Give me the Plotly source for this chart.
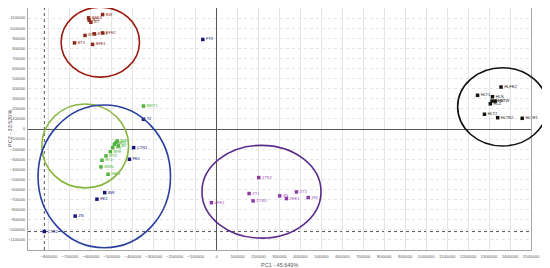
import plotly.graph_objects as go

# ---------------- data ----------------
red_labels = ["BW", "BFE3", "BT5", "BT", "BT3", "BTW", "BTE1", "BFE2", "BFE1"]
red_x = [-544000, -611000, -608000, -600000, -678000, -628000, -584000, -544000, -592000]
red_y = [1135000, 1102000, 1079000, 1059000, 854000, 928000, 944000, 953000, 839000]

green_labels = ["BWT1", "BT1", "BT2", "BN", "BFE", "BTR", "BT4", "BWN", "MAN", "BW2", "BZ"]
green_x = [-349000, -480000, -488000, -496000, -507000, -528000, -547000, -552000, -518000, -474000, -469000]
green_y = [228000, -136000, -151000, -185000, -225000, -267000, -310000, -376000, -449000, -119000, -168000]

blue_labels = ["T2", "FT3", "CTR1", "FE1", "BW", "FE2", "ZN", "CTR2"]
blue_x = [-349000, -66000, -396000, -416000, -534000, -571000, -675000, -822000]
blue_y = [96000, 888000, -185000, -300000, -631000, -696000, -864000, -1017000]

purple_labels = ["ZTR2", "ZT1", "ZTW1", "ZN", "ZFE1", "ZT3", "ZW", "ZFE2"]
purple_x = [201000, 155000, 174000, 301000, 333000, 381000, 437000, -25000]
purple_y = [-482000, -640000, -713000, -663000, -690000, -624000, -680000, -730000]

black_labels = ["HLFE2", "HLT1", "HLN", "HLW", "HLTW", "HLZ", "HLT2", "HLTR2", "HLFE1"]
black_x = [1357000, 1245000, 1316000, 1314000, 1329000, 1306000, 1278000, 1341000, 1458000]
black_y = [416000, 334000, 320000, 277000, 277000, 250000, 146000, 112000, 106000]

# ellipses: (center x, center y, radius x, radius y)
ell_red = (-555000, 861000, 187000, 347000)
ell_green = (-627000, -168000, 207000, 416000)
ell_blue = (-536000, -470000, 316000, 708000)
ell_purple = (214000, -622000, 284000, 460000)
ell_black = (1364000, 220000, 214000, 388000)

# crosshair (selected point)
cross_x = -822000
cross_y = -1017000

x_range = [-900000, 1500000]
y_range = [-1200000, 1200000]
x_ticks = list(range(-800000, 1500001, 100000))
y_ticks = list(range(-1100000, 1200001, 100000))

x_title = "PC1 - 45.649%"
y_title = "PC2 - 33.520%"

# ---------------- figure ----------------
fig = go.Figure()

groups = [
    (red_x, red_y, red_labels, "#8b2a1a", "#8b2a1a"),
    (green_x, green_y, green_labels, "#4fb43c", "#4fb43c"),
    (blue_x, blue_y, blue_labels, "#16167a", "#16167a"),
    (purple_x, purple_y, purple_labels, "#8e3aa6", "#a050b4"),
    (black_x, black_y, black_labels, "#111111", "#222222"),
]
for gx, gy, gl, mc, tc in groups:
    fig.add_trace(go.Scatter(
        x=gx, y=gy, text=gl, mode="markers+text",
        textposition="middle right",
        textfont=dict(size=4, color=tc, family="Arial, Liberation Sans, sans-serif"),
        marker=dict(size=3.5, color=mc, symbol="square"),
        cliponaxis=False, showlegend=False,
    ))

def dom_x(v):
    return (v - x_range[0]) / (x_range[1] - x_range[0])

def dom_y(v):
    return (v - y_range[0]) / (y_range[1] - y_range[0])

def add_ellipse(e, color, width=1.6, unclipped=False):
    cx, cy, rx, ry = e
    if unclipped:
        fig.add_shape(type="circle", xref="x domain", yref="y domain",
                      x0=dom_x(cx - rx), x1=dom_x(cx + rx),
                      y0=dom_y(cy - ry), y1=dom_y(cy + ry),
                      line=dict(color=color, width=width))
    else:
        fig.add_shape(type="circle", xref="x", yref="y",
                      x0=cx - rx, x1=cx + rx, y0=cy - ry, y1=cy + ry,
                      line=dict(color=color, width=width))

add_ellipse(ell_red, "#9a1c10", unclipped=True)
add_ellipse(ell_green, "#86b53a")
add_ellipse(ell_blue, "#2b3f9f")
add_ellipse(ell_purple, "#5a2d8c")
add_ellipse(ell_black, "#111111", unclipped=True)

# crosshair dotted lines
fig.add_shape(type="line", xref="x", yref="paper", x0=cross_x, x1=cross_x, y0=0, y1=1,
              line=dict(color="#555555", width=1, dash="dot"), layer="below")
fig.add_shape(type="line", xref="paper", yref="y", x0=0, x1=1, y0=cross_y, y1=cross_y,
              line=dict(color="#555555", width=1, dash="dot"), layer="below")

fam = "Arial, Liberation Sans, sans-serif"
tick_font = dict(size=4.3, color="#555555", family=fam)
ytick_font = dict(size=3.9, color="#555555", family=fam)
title_font = dict(size=5.5, color="#555555", family=fam)

fig.update_xaxes(
    range=x_range, tickvals=x_ticks, tickformat="d", tickfont=tick_font,
    showgrid=True, gridcolor="#e4e4e4", gridwidth=1,
    zeroline=True, zerolinecolor="#555555", zerolinewidth=1,
    showline=True, linecolor="#a8a8a8", linewidth=1, mirror=True,
    ticks="", ticklabelstandoff=2, automargin=False,
)
fig.update_yaxes(
    range=y_range, tickvals=y_ticks, tickformat="d", tickfont=ytick_font,
    showgrid=True, gridcolor="#e4e4e4", gridwidth=1, griddash="dot",
    zeroline=True, zerolinecolor="#555555", zerolinewidth=1,
    showline=True, linecolor="#a8a8a8", linewidth=1, mirror=True,
    ticks="", ticklabelstandoff=1, automargin=False,
)

fig.add_annotation(text=x_title, xref="paper", yref="paper", x=0.5, y=0,
                   yshift=-10, yanchor="top", showarrow=False, font=title_font)
fig.add_annotation(text=y_title, xref="paper", yref="paper", x=0, y=0.5,
                   xshift=-18, xanchor="center", textangle=-90, showarrow=False,
                   font=title_font)

fig.update_layout(
    width=542, height=260,
    margin=dict(l=20, r=19, t=0, b=18),
    paper_bgcolor="white", plot_bgcolor="white",
    showlegend=False,
)

fig.write_html("out.html")
